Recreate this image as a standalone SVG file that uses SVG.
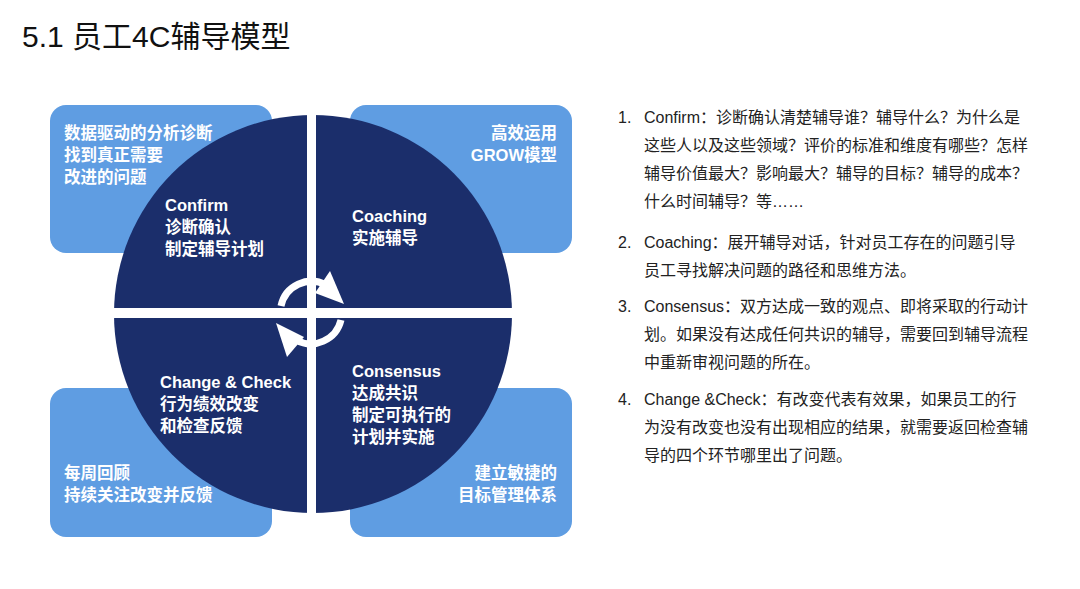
<svg xmlns="http://www.w3.org/2000/svg" width="1080" height="589" viewBox="0 0 1080 589">
<style>
.f{font-family:"Liberation Sans","Noto Sans CJK SC",sans-serif}
.w{fill:#fff;font-weight:bold;font-size:16.5px}
.b{fill:#5f9de2}
.t{fill:#222;font-size:16px}
</style>
<rect width="1080" height="589" fill="#fff"/>
<text class="f" x="22" y="47" font-size="30" fill="#111">5.1 员工4C辅导模型</text>
<g id="box-tl"><rect class="b" x="50" y="105" width="222" height="148" rx="16"/><text class="f w" x="64" y="139">数据驱动的分析诊断</text><text class="f w" x="64" y="161">找到真正需要</text><text class="f w" x="64" y="183">改进的问题</text></g>
<g id="box-tr"><rect class="b" x="350" y="105" width="222" height="148" rx="16"/><text class="f w" x="557" y="139" text-anchor="end">高效运用</text><text class="f w" x="557" y="161" text-anchor="end">GROW模型</text></g>
<g id="box-bl"><rect class="b" x="50" y="388" width="222" height="149" rx="16"/><text class="f w" x="64" y="479">每周回顾</text><text class="f w" x="64" y="501">持续关注改变并反馈</text></g>
<g id="box-br"><rect class="b" x="350" y="388" width="222" height="149" rx="16"/><text class="f w" x="557" y="479" text-anchor="end">建立敏捷的</text><text class="f w" x="557" y="501" text-anchor="end">目标管理体系</text></g>
<g id="circle">
<circle cx="313" cy="314" r="199" fill="#1b2e6b"/>
<rect x="307" y="110" width="9" height="410" fill="#fff"/>
<rect x="105" y="308" width="420" height="10" fill="#fff"/>
</g>
<g id="labels">
<text class="f w" x="165" y="211">Confirm</text><text class="f w" x="165" y="233">诊断确认</text><text class="f w" x="165" y="255">制定辅导计划</text>
<text class="f w" x="352" y="222">Coaching</text><text class="f w" x="352" y="244">实施辅导</text>
<text class="f w" x="160" y="388">Change &amp; Check</text><text class="f w" x="160" y="410">行为绩效改变</text><text class="f w" x="160" y="432">和检查反馈</text>
<text class="f w" x="352" y="377">Consensus</text><text class="f w" x="352" y="399">达成共识</text><text class="f w" x="352" y="421">制定可执行的</text><text class="f w" x="352" y="443">计划并实施</text>
</g>
<g id="connectors" fill="none" stroke="#fff" stroke-width="7">
<path d="M281,306 A31,31 0 0 1 326,285"/>
<path d="M330,271 L344,304 L315,293 z" fill="#fff" stroke="none"/>
<path d="M341,320 A31,31 0 0 1 296,340"/>
<path d="M276,323 L287,357 L304,337 z" fill="#fff" stroke="none"/>
</g>
<g id="notes" class="f t">
<text x="618" y="123">1.</text><text x="644" y="123">Confirm：诊断确认清楚辅导谁？辅导什么？为什么是</text>
<text x="644" y="151">这些人以及这些领域？评价的标准和维度有哪些？怎样</text>
<text x="644" y="179">辅导价值最大？影响最大？辅导的目标？辅导的成本？</text>
<text x="644" y="207">什么时间辅导？等……</text>
<text x="618" y="248">2.</text><text x="644" y="248">Coaching：展开辅导对话，针对员工存在的问题引导</text>
<text x="644" y="276">员工寻找解决问题的路径和思维方法。</text>
<text x="618" y="312">3.</text><text x="644" y="312">Consensus：双方达成一致的观点、即将采取的行动计</text>
<text x="644" y="340">划。如果没有达成任何共识的辅导，需要回到辅导流程</text>
<text x="644" y="368">中重新审视问题的所在。</text>
<text x="618" y="405">4.</text><text x="644" y="405">Change &amp;Check：有改变代表有效果，如果员工的行</text>
<text x="644" y="433">为没有改变也没有出现相应的结果，就需要返回检查辅</text>
<text x="644" y="461">导的四个环节哪里出了问题。</text>
</g>
</svg>
